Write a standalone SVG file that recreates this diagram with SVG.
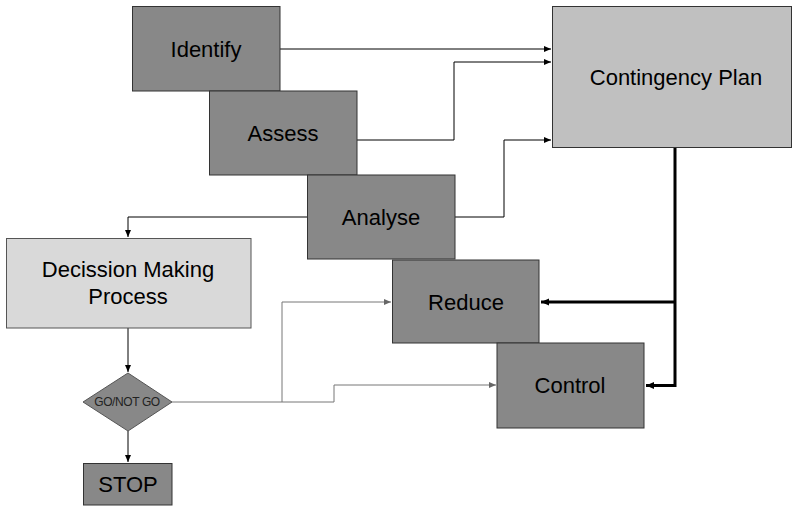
<svg xmlns="http://www.w3.org/2000/svg" width="792" height="506" viewBox="0 0 792 506">
<defs>
<marker id="ab" markerWidth="8" markerHeight="8" refX="7" refY="4" orient="auto" markerUnits="userSpaceOnUse"><path d="M0,1 L7,4 L0,7 Z" fill="#000"/></marker>
<marker id="ag" markerWidth="8" markerHeight="8" refX="7" refY="4" orient="auto" markerUnits="userSpaceOnUse"><path d="M0,1 L7,4 L0,7 Z" fill="#666"/></marker>
<marker id="at" markerWidth="10" markerHeight="10" refX="8" refY="5" orient="auto" markerUnits="userSpaceOnUse"><path d="M0,1.5 L8,5 L0,8.5 Z" fill="#000"/></marker>
</defs>
<style>
.dk{fill:#888888;stroke:#333;stroke-width:1}
.lt{fill:#c0c0c0;stroke:#333;stroke-width:1}
.vl{fill:#d9d9d9;stroke:#555;stroke-width:1}
text{font-family:"Liberation Sans",Arial,sans-serif;font-size:22px;fill:#000;text-anchor:middle}
.c{fill:none;stroke:#000;stroke-width:1}
.g{fill:none;stroke:#777;stroke-width:1}
.t{fill:none;stroke:#000;stroke-width:3}
</style>
<rect width="792" height="506" fill="#fff"/>
<g id="connectors">
<path class="c" d="M280,49 H551" marker-end="url(#ab)"/>
<path class="c" d="M357,140 H454 V62 H551" marker-end="url(#ab)"/>
<path class="c" d="M455,217 H504 V140 H551" marker-end="url(#ab)"/>
<path class="c" d="M307,217 H128 V237" marker-end="url(#ab)"/>
<path class="c" d="M128,328 V372" marker-end="url(#ab)"/>
<path class="c" d="M128,431 V462" marker-end="url(#ab)"/>
<path class="g" d="M172,402 H282 V302 H391" marker-end="url(#ag)"/>
<path class="g" d="M282,402 H334 V385 H496" marker-end="url(#ag)"/>
<path class="t" d="M675,148 V385.5 H646" marker-end="url(#at)"/>
<path class="t" d="M675,302 H541" marker-end="url(#at)"/>
</g>
<g id="identify"><rect class="dk" x="132.5" y="6.5" width="147.5" height="84.5"/><text x="206" y="57">Identify</text></g>
<g id="assess"><rect class="dk" x="209.5" y="91" width="147.5" height="84"/><text x="283" y="141">Assess</text></g>
<g id="analyse"><rect class="dk" x="307.5" y="175" width="147.5" height="84"/><text x="381" y="225">Analyse</text></g>
<g id="reduce"><rect class="dk" x="392.5" y="260" width="146.5" height="83"/><text x="466" y="310">Reduce</text></g>
<g id="control"><rect class="dk" x="497" y="343" width="147" height="85"/><text x="570" y="393">Control</text></g>
<g id="contingency"><rect class="lt" x="552.5" y="6.5" width="239" height="141"/><text x="676" y="85">Contingency Plan</text></g>
<g id="decision"><rect class="vl" x="6.5" y="238.5" width="244.5" height="89.5"/><text x="128" y="277">Decission Making</text><text x="128" y="304">Process</text></g>
<g id="gonogo"><polygon class="dk" points="128,373 172,402 128,431 83,402" style="stroke:#555"/><text x="127" y="406" style="font-size:12px;fill:#222;letter-spacing:-0.4px">GO/NOT GO</text></g>
<g id="stop"><rect class="dk" x="83.5" y="463.5" width="88.5" height="41.5"/><text x="128" y="492">STOP</text></g>
</svg>
